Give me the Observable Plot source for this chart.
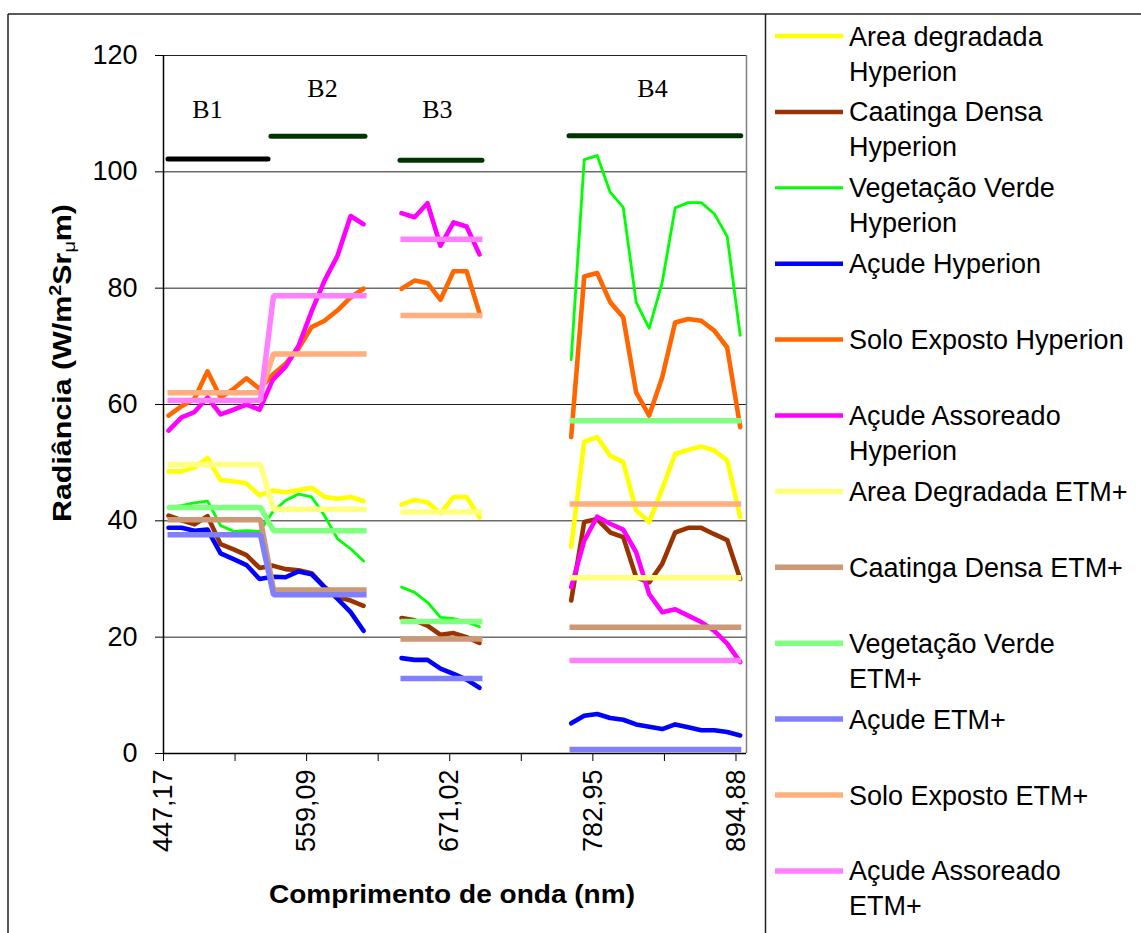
<!DOCTYPE html>
<html><head><meta charset="utf-8">
<script src="https://cdn.jsdelivr.net/npm/d3@7"></script>
<script src="https://cdn.jsdelivr.net/npm/@observablehq/plot@0.6"></script>
<style>
body{margin:0;background:#fff}
#chart{position:relative;width:1141px;height:933px;overflow:hidden}
</style>
</head><body><div id="chart"></div>
<script>
// ---------- DATA ----------
const hypNames = ["Area degradada Hyperion","Caatinga Densa Hyperion","Vegetação Verde Hyperion","Açude Hyperion","Solo Exposto Hyperion","Açude Assoreado Hyperion"];
const etmNames = ["Area Degradada ETM+","Caatinga Densa ETM+","Vegetação Verde ETM+","Açude ETM+","Solo Exposto ETM+","Açude Assoreado ETM+"];
const hypColors = ["#FFFF00","#993300","#00FF00","#0000FF","#FF6600","#FF00FF"];
const etmColors = ["#FFFF80","#CC9977","#80FF80","#8080FF","#FFAF7F","#FF80FF"];
const legendLines = [
  ["Area degradada","Hyperion"],["Caatinga Densa","Hyperion"],["Vegetação Verde","Hyperion"],
  ["Açude Hyperion"],["Solo Exposto Hyperion"],["Açude Assoreado","Hyperion"],
  ["Area Degradada ETM+"],["Caatinga Densa ETM+"],["Vegetação Verde","ETM+"],
  ["Açude ETM+"],["Solo Exposto ETM+"],["Açude Assoreado","ETM+"]
];

// Hyperion band wavelengths (nm) as placed on the chart
const hypXB12 = [451.1,461.3,471.4,481.6,491.8,502.0,512.1,522.3,532.5,542.6,552.8,563.0,573.1,583.3,593.5,603.6];
const hypXB3  = [633.3,643.5,653.6,663.8,674.0,684.2,694.3];
const hypXB4  = [766.0,776.2,786.3,796.5,806.7,816.8,827.0,837.2,847.3,857.5,867.7,877.9,888.0,898.2];

// Hyperion radiance, one row per series (order of hypNames)
const hypValsB12 = [
  [48.5,48.5,49.2,50.8,47.0,46.8,46.4,44.4,45.2,44.9,45.3,45.7,44.1,43.8,44.1,43.4],
  [40.9,40.1,39.4,40.8,36.0,35.1,34.1,31.9,32.3,31.7,31.5,31.0,28.6,26.9,26.3,25.4],
  [42.3,42.6,43.1,43.4,39.2,38.2,38.3,38.2,41.5,43.5,44.6,44.1,40.9,36.9,35.2,33.1],
  [38.8,38.8,38.3,38.5,34.4,33.4,32.4,30.0,30.4,30.3,31.3,30.8,28.6,26.6,24.3,21.1],
  [58.1,59.7,61.0,65.7,61.2,62.7,64.5,62.7,65.1,67.0,69.6,73.3,74.4,76.2,78.4,79.9],
  [55.5,57.8,58.7,61.2,58.3,59.1,60.0,59.1,64.2,66.5,70.1,76.0,81.3,85.6,92.4,91.0]
];
const hypValsB3 = [
  [42.8,43.6,43.2,41.3,44.1,44.1,40.6],
  [23.3,22.9,22.0,20.4,20.7,20.0,19.0],
  [28.6,27.7,26.0,23.4,23.2,22.6,21.8],
  [16.4,16.1,16.1,14.6,13.7,12.7,11.3],
  [79.9,81.3,80.9,78.0,82.9,82.9,75.7],
  [92.9,92.2,94.6,87.3,91.3,90.6,85.8]
];
const hypValsB4 = [
  [35.5,53.6,54.4,51.2,50.1,41.8,39.8,45.5,51.5,52.2,52.8,52.1,50.4,40.6],
  [26.3,39.8,40.3,38.0,37.2,30.3,29.4,32.6,38.0,38.8,38.8,37.7,36.7,30.0],
  [67.7,102.1,102.8,96.5,93.9,77.6,73.1,81.0,93.8,94.7,94.7,92.8,88.9,71.9],
  [5.2,6.5,6.8,6.1,5.8,5.0,4.6,4.2,5.0,4.5,4.0,4.0,3.7,3.1],
  [54.4,82.0,82.6,77.6,75.0,62.1,58.1,64.7,74.1,74.7,74.4,72.7,69.8,56.1],
  [28.6,36.6,40.7,39.5,38.5,34.6,27.4,24.3,24.8,23.7,22.6,21.1,18.9,15.7]
];

// ETM+ bands: extent (nm) and radiance per band (B1..B4), one row per series
const etmBandStart = [450.3,533.2,632.5,764.7];
const etmBandEnd   = [523.0,606.0,696.6,899.0];
const etmSegment   = [0,0,1,2];
const etmVals = [
  [49.7,42.0,41.5,30.2],
  [40.2,28.1,19.7,21.7],
  [42.3,38.3,22.7,57.2],
  [37.6,27.3,12.9,0.7],
  [62.0,68.7,75.3,42.9],
  [60.7,78.7,88.4,16.0]
];

// Band marker bars and labels
const bandLabels   = ["B1","B2","B3","B4"];
const bandBarStart = [451.1,531.6,632.5,764.7];
const bandBarEnd   = [529.3,605.1,696.6,899.0];
const bandBarValue = [102.2,106.1,102.0,106.2];
const bandBarColor = ["#000000","#003300","#003300","#003300"];
const bandLabelX   = [481.6,571.5,661.4,829.6];
const bandLabelY   = [109.3,112.8,109.3,112.8];

// Axes
const yTicks = [0,20,40,60,80,100,120];
const xMajorTicks = [447.17,559.09,671.02,782.95,894.88];
const xTickLabels = ["447,17","559,09","671,02","782,95","894,88"];
const xDomain = [447.17,903.1];

// ---------- BUILD ----------
const hypData = [];
hypNames.forEach((name, s) => {
  [[hypXB12, hypValsB12],[hypXB3, hypValsB3],[hypXB4, hypValsB4]].forEach(([xs, vals], g) => {
    xs.forEach((x, i) => hypData.push({series: name, seg: g, x, y: vals[s][i]}));
  });
});
const etmData = [];
etmNames.forEach((name, s) => {
  etmVals[s].forEach((v, b) => {
    etmData.push({series: name, seg: etmSegment[b], x: etmBandStart[b], y: v});
    etmData.push({series: name, seg: etmSegment[b], x: etmBandEnd[b], y: v});
  });
});
const bars = bandLabels.map((b, i) => ({x1: bandBarStart[i], x2: bandBarEnd[i], y: bandBarValue[i], c: bandBarColor[i]}));
const labels = bandLabels.map((b, i) => ({x: bandLabelX[i], y: bandLabelY[i], t: b}));

const xAllTicks = [];
xMajorTicks.forEach((t, i) => {
  xAllTicks.push(t);
  if (i < xMajorTicks.length - 1) xAllTicks.push((t + xMajorTicks[i + 1]) / 2);
});
const fmtX = d => { const i = xMajorTicks.indexOf(d); return i >= 0 ? xTickLabels[i] : ""; };

const FONT = "'Liberation Sans', Arial, sans-serif";
const marks = [
  Plot.ruleY(yTicks.filter(v => v > 0), {stroke: "#222", strokeWidth: 1}),
  Plot.ruleX([xDomain[1]], {stroke: "#808080", strokeWidth: 1.5}),
  Plot.ruleY(bars, {y: "y", x1: "x1", x2: "x2", stroke: "c", strokeWidth: 5, strokeLinecap: "round"}),
  Plot.text(labels, {x: "x", y: "y", text: "t", fontFamily: "'Liberation Serif', 'Times New Roman', serif", fontSize: 26, lineAnchor: "bottom", fill: "#000"})
];
hypNames.forEach((name, s) => {
  marks.push(Plot.line(hypData.filter(d => d.series === name), {
    x: "x", y: "y", z: "seg", stroke: hypColors[s], strokeWidth: s === 2 ? 2.8 : 4.6,
    strokeLinejoin: "round", strokeLinecap: "round"
  }));
});
etmNames.forEach((name, s) => {
  marks.push(Plot.line(etmData.filter(d => d.series === name), {
    x: "x", y: "y", z: "seg", stroke: etmColors[s], strokeWidth: 5.5,
    strokeLinejoin: "miter", strokeLinecap: "butt"
  }));
});
marks.push(
  Plot.axisY({ticks: yTicks, tickSize: 8, tickPadding: 18, label: null, fontSize: 27, fontFamily: FONT, stroke: "#000"}),
  Plot.axisX({ticks: xAllTicks, tickFormat: fmtX, tickSize: 8, tickPadding: 8, tickRotate: -90, label: null, fontSize: 27, fontFamily: FONT, stroke: "#000"}),
  Plot.ruleX([xDomain[0]], {stroke: "#000", strokeWidth: 1.5}),
  Plot.ruleY([0], {stroke: "#000", strokeWidth: 1.5})
);

const plot = Plot.plot({
  width: 1141, height: 933,
  marginLeft: 163, marginRight: 395, marginTop: 55, marginBottom: 180,
  style: {fontFamily: FONT, fontSize: "27px", background: "#fff", color: "#000", overflow: "visible"},
  x: {domain: xDomain},
  y: {domain: [0, 120]},
  marks
});

const svg = d3.select(plot);
// outer frame and legend divider
const frame = svg.append("g").attr("stroke", "#222").attr("stroke-width", 1.5).attr("fill", "none");
frame.append("line").attr("x1", 8).attr("y1", 14).attr("x2", 1141).attr("y2", 14);
frame.append("line").attr("x1", 8).attr("y1", 14).attr("x2", 8).attr("y2", 933);
frame.append("line").attr("x1", 765.5).attr("y1", 14).attr("x2", 765.5).attr("y2", 933);

// y-axis title
const yt = svg.append("text")
  .attr("transform", "translate(71,363) rotate(-90)")
  .attr("text-anchor", "middle").attr("font-family", FONT).attr("font-weight", "bold")
  .attr("font-size", 26).attr("fill", "#000")
  .attr("textLength", 318).attr("lengthAdjust", "spacingAndGlyphs");
yt.append("tspan").text("Radiância (W/m");
yt.append("tspan").attr("dy", -10).attr("font-size", 17).text("2");
yt.append("tspan").attr("dy", 10).text("Sr");
yt.append("tspan").attr("dy", 4).attr("font-size", 17).attr("font-weight", "normal").text("μ");
yt.append("tspan").attr("dy", -4).text("m)");

// x-axis title
svg.append("text").attr("x", 452).attr("y", 903).attr("text-anchor", "middle")
  .attr("font-family", FONT).attr("font-weight", "bold").attr("font-size", 26).attr("fill", "#000")
  .attr("textLength", 366).attr("lengthAdjust", "spacingAndGlyphs")
  .text("Comprimento de onda (nm)");

// legend
const allNames = hypNames.concat(etmNames);
const allColors = hypColors.concat(etmColors);
const lg = svg.append("g").attr("text-anchor", "start");
allNames.forEach((name, i) => {
  const y = 36 + 75.9 * i;
  const isEtm = i >= 6;
  lg.append("line").attr("x1", 775).attr("x2", 843).attr("y1", y).attr("y2", y)
    .attr("stroke", allColors[i]).attr("stroke-width", isEtm ? 5.5 : (i === 2 ? 3 : 4.5));
  const t = lg.append("text").attr("x", 849).attr("y", y + 9.5).attr("text-anchor", "start")
    .attr("font-family", FONT).attr("font-size", 27).attr("fill", "#000");
  legendLines[i].forEach((ln, k) => {
    t.append("tspan").attr("x", 849).attr("dy", k === 0 ? 0 : 35).text(ln);
  });
});

document.getElementById("chart").appendChild(plot);
</script>
</body></html>
